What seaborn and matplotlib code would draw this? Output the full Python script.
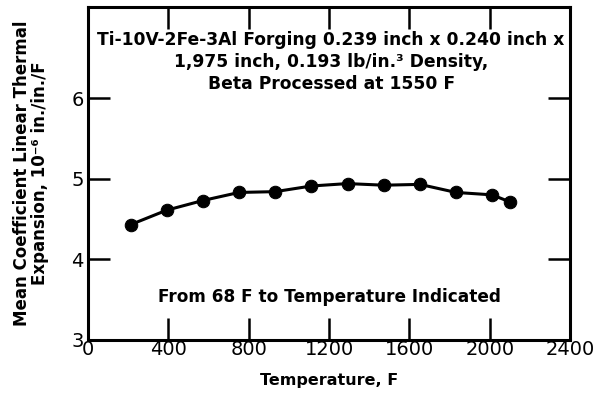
import matplotlib
matplotlib.use("Agg")
import matplotlib.pyplot as plt
import seaborn as sns
import pandas as pd

# Mean coefficient of linear thermal expansion, from 68 F to the indicated temperature
temperature_f = [212, 392, 572, 752, 932, 1112, 1292, 1472, 1652, 1832, 2012, 2102]
mean_cte = [4.43, 4.61, 4.73, 4.83, 4.84, 4.91, 4.94, 4.92, 4.93, 4.83, 4.80, 4.71]

x_ticks = [0, 400, 800, 1200, 1600, 2000, 2400]
y_ticks = [3, 4, 5, 6]

header = ("Ti-10V-2Fe-3Al Forging 0.239 inch x 0.240 inch x\n"
          "1,975 inch, 0.193 lb/in.\u00b3 Density,\n"
          "Beta Processed at 1550 F")
note = "From 68 F to Temperature Indicated"
x_label = "Temperature, F"
y_label = "Mean Coefficient Linear Thermal\nExpansion, 10\u207b\u2076 in./in./F"

sns.set_style("ticks")
plt.rcParams["font.family"] = ["DejaVu Sans"]
plt.rcParams["text.color"] = "black"
plt.rcParams["axes.labelcolor"] = "black"
plt.rcParams["xtick.color"] = "black"
plt.rcParams["ytick.color"] = "black"

df = pd.DataFrame({"Temperature": temperature_f, "CTE": mean_cte})

fig = plt.figure(figsize=(5.94, 3.93), dpi=100)
ax = fig.add_axes([0.148, 0.135, 0.812, 0.847])

sns.lineplot(data=df, x="Temperature", y="CTE", ax=ax, color="black",
             linewidth=2.2, marker="o", markersize=9, markeredgecolor="black",
             markerfacecolor="black")

ax.set_xlim(0, 2400)
ax.set_ylim(3, 7.13)
ax.set_xticks(x_ticks)
ax.set_yticks(y_ticks)
ax.set_xticklabels([str(v) for v in x_ticks], fontsize=14)
ax.set_yticklabels([str(v) for v in y_ticks], fontsize=14)

for side in ["left", "right", "top", "bottom"]:
    ax.spines[side].set_visible(True)
    ax.spines[side].set_linewidth(2.2)
    ax.spines[side].set_color("black")

ax.tick_params(axis="both", which="major", direction="in", length=16,
               width=1.8, color="black", labelcolor="black",
               top=True, right=True)
ax.tick_params(axis="x", pad=0)
ax.tick_params(axis="y", pad=3)

ax.set_xlabel(x_label, fontsize=11.5, fontweight="bold", labelpad=10)
ax.set_ylabel(y_label, fontsize=12, fontweight="bold", labelpad=16,
              linespacing=1.0)

ax.text(1210, 6.45, header, ha="center", va="center", fontsize=12.3,
        fontweight="bold", linespacing=1.3)
ax.text(1200, 3.53, note, ha="center", va="center", fontsize=12.2,
        fontweight="bold")

fig.savefig("out.png", dpi=100)
